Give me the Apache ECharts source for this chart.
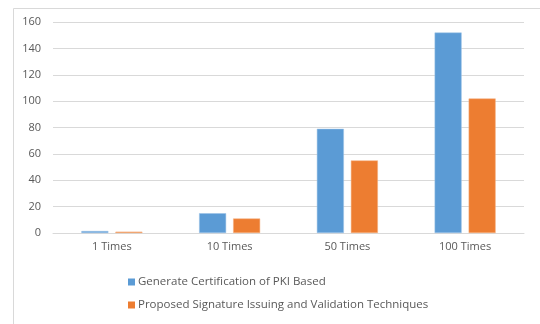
<!DOCTYPE html>
<html>
<head>
<meta charset="utf-8">
<script src="https://cdn.jsdelivr.net/npm/echarts@6/dist/echarts.min.js"></script>
<style>
  html, body { margin: 0; padding: 0; background: #ffffff; }
  #chart { width: 540px; height: 324px; }
</style>
</head>
<body>
<div id="chart"></div>
<script>
// Run counts on the x axis
const categories = ['1 Times', '10 Times', '50 Times', '100 Times'];

// Timing per approach
const seriesNames = ['Generate Certification of PKI Based', 'Proposed Signature Issuing and Validation Techniques'];
const pkiValues = [1.5, 15, 79, 152];
const proposedValues = [1, 11, 55, 102];

// Y axis range
const yMin = 0;
const yMax = 160;
const yStep = 20;

const textColor = '#595959';
const fontFamily = '"Open Sans", "Liberation Sans", sans-serif';

const chart = echarts.init(document.getElementById('chart'), null, { renderer: 'canvas' });

chart.setOption({
  animation: false,
  backgroundColor: '#ffffff',
  graphic: [{
    type: 'rect',
    left: 11, top: 6,
    shape: { width: 527, height: 317 },
    style: { fill: 'none', stroke: '#d9d9d9', lineWidth: 1 },
    silent: true
  }],
  grid: { left: 53, right: 16, top: 22, bottom: 91, containLabel: false },
  xAxis: {
    type: 'category',
    data: categories,
    axisLine: { show: true, lineStyle: { color: '#d9d9d9', width: 1 } },
    axisTick: { show: false },
    axisLabel: { color: textColor, fontSize: 11, fontFamily: fontFamily, margin: 8 }
  },
  yAxis: {
    type: 'value',
    min: yMin, max: yMax, interval: yStep,
    axisLine: { show: false },
    axisTick: { show: false },
    axisLabel: { color: textColor, fontSize: 11, fontFamily: fontFamily, margin: 12 },
    splitLine: { lineStyle: { color: '#d9d9d9', width: 1 } }
  },
  legend: {
    orient: 'vertical',
    left: 123,
    top: 271,
    itemWidth: 7,
    itemHeight: 7,
    itemGap: 11,
    icon: 'rect',
    itemStyle: { borderWidth: 0 },
    textStyle: { color: textColor, fontSize: 11.5, fontFamily: fontFamily, padding: [0, 0, 0, -2] },
    data: seriesNames
  },
  series: [
    {
      name: seriesNames[0],
      type: 'bar',
      data: pkiValues,
      barWidth: 27,
      barGap: '26%',
      itemStyle: { color: '#5b9bd5', borderColor: '#9dc3e6', borderWidth: 0.5 }
    },
    {
      name: seriesNames[1],
      type: 'bar',
      data: proposedValues,
      barWidth: 27,
      itemStyle: { color: '#ed7d31', borderColor: '#f4b183', borderWidth: 0.5 }
    }
  ]
});
</script>
</body>
</html>
